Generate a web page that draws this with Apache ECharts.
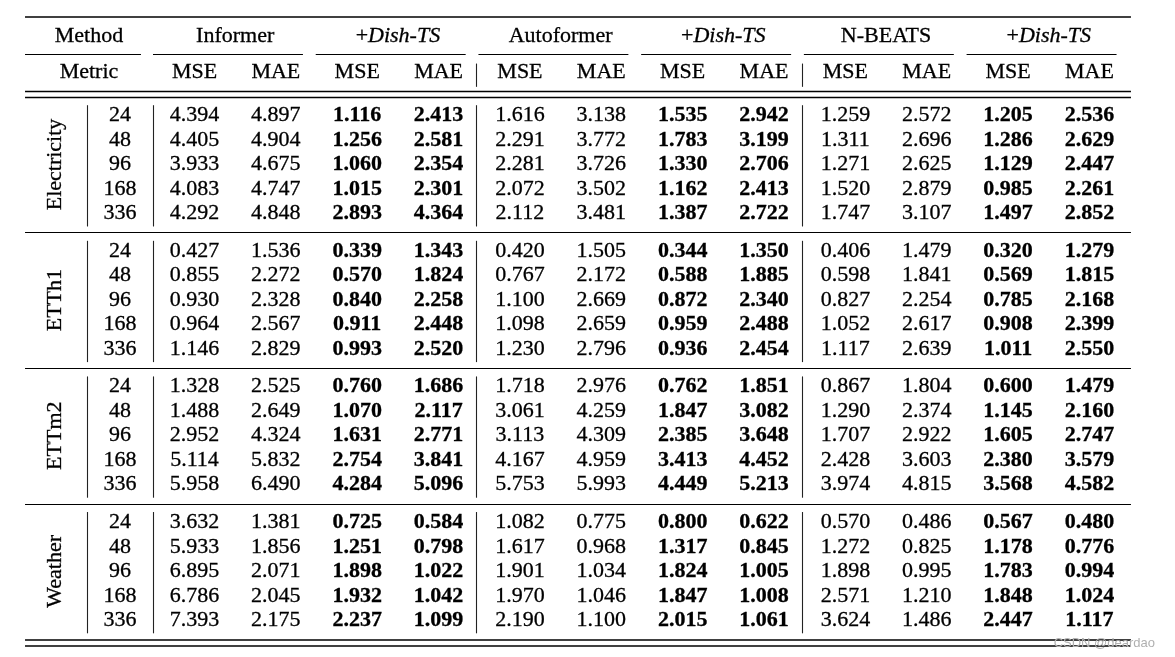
<!DOCTYPE html>
<html><head><meta charset="utf-8">
<script src="https://cdn.jsdelivr.net/npm/echarts@6/dist/echarts.min.js"></script>
<style>html,body{margin:0;padding:0;background:#fff}#c{width:1175px;height:657px}</style>
</head><body><div id="c"></div>
<script>
// ---------------- data ----------------
const datasets = ['Electricity', 'ETTh1', 'ETTm2', 'Weather'];
const horizons = [24, 48, 96, 168, 336];
const methods = ['Informer', '+Dish-TS', 'Autoformer', '+Dish-TS', 'N-BEATS', '+Dish-TS'];
const metrics = ['MSE', 'MAE'];
const boldMethods = [false, true, false, true, false, true];

// rows: Electricity(24..336), ETTh1, ETTm2, Weather
const informerMSE = [4.394,4.405,3.933,4.083,4.292, 0.427,0.855,0.930,0.964,1.146, 1.328,1.488,2.952,5.114,5.958, 3.632,5.933,6.895,6.786,7.393];
const informerMAE = [4.897,4.904,4.675,4.747,4.848, 1.536,2.272,2.328,2.567,2.829, 2.525,2.649,4.324,5.832,6.490, 1.381,1.856,2.071,2.045,2.175];
const informerDishMSE = [1.116,1.256,1.060,1.015,2.893, 0.339,0.570,0.840,0.911,0.993, 0.760,1.070,1.631,2.754,4.284, 0.725,1.251,1.898,1.932,2.237];
const informerDishMAE = [2.413,2.581,2.354,2.301,4.364, 1.343,1.824,2.258,2.448,2.520, 1.686,2.117,2.771,3.841,5.096, 0.584,0.798,1.022,1.042,1.099];
const autoformerMSE = [1.616,2.291,2.281,2.072,2.112, 0.420,0.767,1.100,1.098,1.230, 1.718,3.061,3.113,4.167,5.753, 1.082,1.617,1.901,1.970,2.190];
const autoformerMAE = [3.138,3.772,3.726,3.502,3.481, 1.505,2.172,2.669,2.659,2.796, 2.976,4.259,4.309,4.959,5.993, 0.775,0.968,1.034,1.046,1.100];
const autoformerDishMSE = [1.535,1.783,1.330,1.162,1.387, 0.344,0.588,0.872,0.959,0.936, 0.762,1.847,2.385,3.413,4.449, 0.800,1.317,1.824,1.847,2.015];
const autoformerDishMAE = [2.942,3.199,2.706,2.413,2.722, 1.350,1.885,2.340,2.488,2.454, 1.851,3.082,3.648,4.452,5.213, 0.622,0.845,1.005,1.008,1.061];
const nbeatsMSE = [1.259,1.311,1.271,1.520,1.747, 0.406,0.598,0.827,1.052,1.117, 0.867,1.290,1.707,2.428,3.974, 0.570,1.272,1.898,2.571,3.624];
const nbeatsMAE = [2.572,2.696,2.625,2.879,3.107, 1.479,1.841,2.254,2.617,2.639, 1.804,2.374,2.922,3.603,4.815, 0.486,0.825,0.995,1.210,1.486];
const nbeatsDishMSE = [1.205,1.286,1.129,0.985,1.497, 0.320,0.569,0.785,0.908,1.011, 0.600,1.145,1.605,2.380,3.568, 0.567,1.178,1.783,1.848,2.447];
const nbeatsDishMAE = [2.536,2.629,2.447,2.261,2.852, 1.279,1.815,2.168,2.399,2.550, 1.479,2.160,2.747,3.579,4.582, 0.480,0.776,0.994,1.024,1.117];

const valueColumns = [informerMSE, informerMAE, informerDishMSE, informerDishMAE,
  autoformerMSE, autoformerMAE, autoformerDishMSE, autoformerDishMAE,
  nbeatsMSE, nbeatsMAE, nbeatsDishMSE, nbeatsDishMAE];

// ---------------- layout (in column / row units) ----------------
const W = 1175, H = 657;
const COL0_PX = 194.5, COL_W = 81.36, ROW0_PX = 115.5, ROW_H = 24.5;
const BLOCK_STEP = 5.535;
const X_DATASET = -1.715, X_HORIZON = -0.917, X_METHOD = -1.297;
const X_LEFT = -2.083, X_RIGHT = 11.51;
const X_V1 = -1.313, X_V2 = -0.506;
const Y_HEAD1 = -3.245, Y_HEAD2 = -1.755;
const FONT = "'Liberation Serif', 'Times New Roman', serif";
const FS = 22;
const INK = '#000';
const STROKE = 0.3;

const rowY = (b, r) => b * BLOCK_STEP + r;

// text items
const regular = [], bold = [], heads = [];
datasets.forEach((ds, b) => {
  horizons.forEach((h, r) => {
    const idx = b * horizons.length + r;
    valueColumns.forEach((col, c) => {
      const item = [c, rowY(b, r), col[idx]];
      (boldMethods[Math.floor(c / 2)] ? bold : regular).push(item);
    });
    heads.push({ name: String(h), value: [X_HORIZON, rowY(b, r)] });
  });
});
heads.push({ name: 'Method', value: [X_METHOD, Y_HEAD1] });
heads.push({ name: 'Metric', value: [X_METHOD, Y_HEAD2] });
methods.forEach((m, g) => {
  heads.push({ name: m, value: [2 * g + 0.5, Y_HEAD1] });
  metrics.forEach((mt, k) => heads.push({ name: mt, value: [2 * g + k, Y_HEAD2] }));
});
const dsLabels = datasets.map((ds, b) => ({ name: ds, value: [X_DATASET, rowY(b, 2)] }));

// rules
const lines = [];
const hl = (x1, x2, y, w) => lines.push({ coords: [[x1, y], [x2, y]], lineStyle: { width: w, color: '#000', opacity: 1 } });
const vl = (x, y1, y2) => lines.push({ coords: [[x, y1], [x, y2]], lineStyle: { width: 1.1, color: '#222', opacity: 1 } });
hl(X_LEFT, X_RIGHT, -4.03, 1.6);
hl(X_LEFT, -0.658, -2.52, 1);
methods.forEach((m, g) => hl(2 * g - 0.51, 2 * g + 1.333, -2.52, 1));
hl(X_LEFT, X_RIGHT, -0.97, 1.4);
hl(X_LEFT, X_RIGHT, -0.74, 1.4);
datasets.forEach((ds, b) => {
  hl(X_LEFT, X_RIGHT, rowY(b, 4.78), b === datasets.length - 1 ? 1.6 : 1.2);
  [X_V1, X_V2, 3.46, 7.467].forEach(x => vl(x, rowY(b, -0.42), rowY(b, 4.53)));
});
hl(X_LEFT, X_RIGHT, rowY(datasets.length - 1, 5.04), 1.6);
[3.46, 7.467].forEach(x => vl(x, -2.12, -1.17));

const baseLabel = { show: true, position: 'inside', align: 'center', verticalAlign: 'middle',
  color: INK, opacity: 1, fontFamily: FONT, fontSize: FS, textBorderWidth: STROKE, textBorderColor: INK };
const textSeries = (data, label) => ({ type: 'scatter', symbolSize: 0, data, silent: true, z: 3,
  itemStyle: { opacity: 1 }, emphasis: { disabled: true }, label });

const chart = echarts.init(document.getElementById('c'), null, { renderer: 'canvas' });
chart.setOption({
  animation: false,
  backgroundColor: '#fff',
  title: { text: 'CSDN @deardao', right: 15, bottom: 2,
    textStyle: { fontSize: 13, fontWeight: 'normal', color: '#b0b0b0', fontFamily: "'Liberation Sans', Arial, sans-serif" } },
  grid: { left: 0, right: 0, top: 0, bottom: 0 },
  xAxis: { type: 'value', min: -COL0_PX / COL_W, max: (W - COL0_PX) / COL_W, show: false },
  yAxis: { type: 'value', inverse: true, min: -ROW0_PX / ROW_H, max: (H - ROW0_PX) / ROW_H, show: false },
  series: [
    { type: 'lines', coordinateSystem: 'cartesian2d', data: lines, silent: true, symbol: 'none', z: 1,
      lineStyle: { opacity: 1, color: '#000' } },
    textSeries(regular, Object.assign({}, baseLabel, { formatter: p => p.value[2].toFixed(3) })),
    textSeries(bold, Object.assign({}, baseLabel, { fontWeight: 'bold', formatter: p => p.value[2].toFixed(3) })),
    textSeries(heads, Object.assign({}, baseLabel, {
      formatter: p => p.name.startsWith('+') ? '{n|+}{i|' + p.name.slice(1) + '}' : p.name,
      rich: {
        n: { fontFamily: FONT, fontSize: FS, color: INK, textBorderWidth: STROKE, textBorderColor: INK },
        i: { fontFamily: FONT, fontSize: FS, color: INK, fontStyle: 'italic', textBorderWidth: STROKE, textBorderColor: INK }
      } })),
    textSeries(dsLabels, Object.assign({}, baseLabel, { rotate: 90, formatter: '{b}' }))
  ]
});
</script>
</body></html>
